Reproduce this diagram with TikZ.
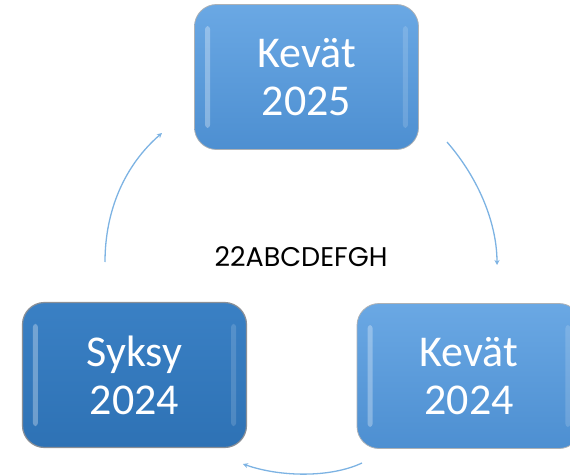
\documentclass[tikz,border=0pt]{standalone}
\usepackage{fontspec}
\setmainfont{Carlito}
\newfontfamily\gothic{Poppins}
\usetikzlibrary{arrows.meta}
\definecolor{lighttop}{HTML}{6AA8E4}
\definecolor{lightbot}{HTML}{4D8FD1}
\definecolor{darktop}{HTML}{3A80C4}
\definecolor{darkbot}{HTML}{2E72B5}
\definecolor{rim}{HTML}{8A8F96}
\definecolor{arrowblue}{HTML}{7DB3E3}
\tikzset{
  box/.style={rounded corners=22pt, draw=rim!70, line width=0.8pt,
    minimum width=224pt, minimum height=145pt, text=white,
    font=\fontsize{44}{48}\selectfont, align=center},
  lightbox/.style={box, top color=lighttop, bottom color=lightbot},
  darkbox/.style={box, draw=rim, line width=1.2pt, top color=darktop, bottom color=darkbot},
  shine/.style={fill=white, opacity=0.3, rounded corners=3pt},
  cyc/.style={draw=arrowblue, line width=1.3pt, -{Stealth[length=5pt,width=5pt]}},
}
\begin{document}
\begin{tikzpicture}[x=1pt,y=-1pt]
\useasboundingbox (0,0) rectangle (570,476);
\clip (0,0) rectangle (570,476);
\node[lightbox] (k25) at (306.5,77) {Kevät\\2025};
\node[darkbox] (s24) at (134.5,375) {Syksy\\2024};
\node[lightbox] (k24) at (469,376) {Kevät\\2024};
\foreach \n in {k25,s24,k24}{
  \fill[shine] ([xshift=11pt,yshift=-22pt]\n.north west) rectangle ([xshift=16pt,yshift=22pt]\n.south west);
  \fill[shine,opacity=0.15] ([xshift=-11pt,yshift=-22pt]\n.north east) rectangle ([xshift=-16pt,yshift=22pt]\n.south east);
}
\node[font=\gothic\fontsize{27}{30}\selectfont, text=black] (mid) at (301,257) {22ABCDEFGH};
\coordinate (a1) at (447,142);
\coordinate (a2) at (497,265);
\coordinate (b1) at (362,463);
\coordinate (b2) at (243,464);
\coordinate (c1) at (105,262);
\coordinate (c2) at (162,133);
\draw[cyc] (a1) .. controls (480,180) and (497,225) .. (a2);
\draw[cyc] (b1) .. controls (330,478) and (280,477) .. (b2);
\draw[cyc] (c1) .. controls (105,210) and (125,165) .. (c2);
\end{tikzpicture}
\end{document}
